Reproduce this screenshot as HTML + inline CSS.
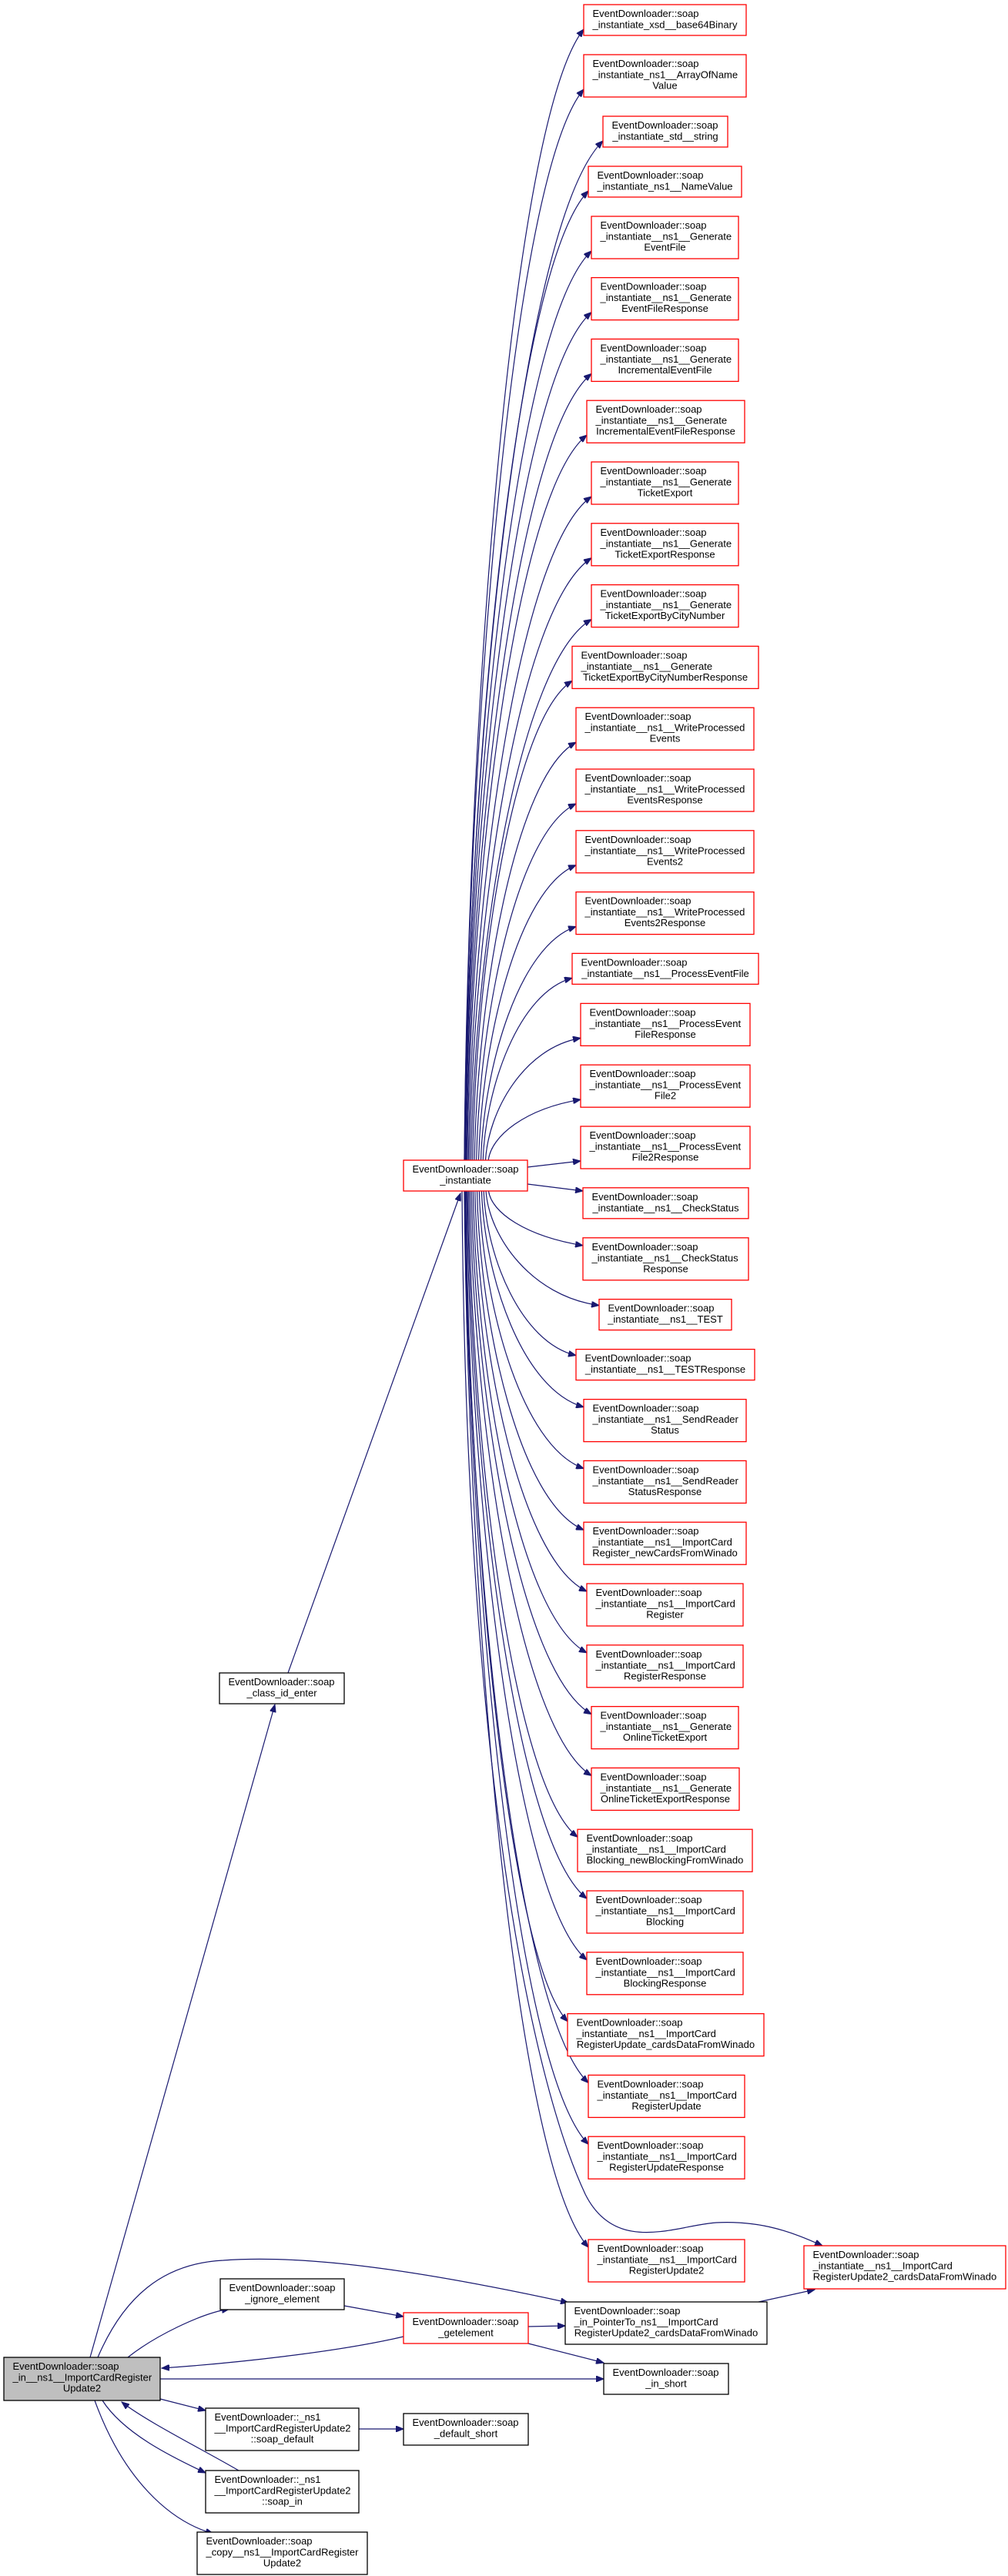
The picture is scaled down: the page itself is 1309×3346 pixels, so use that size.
<!DOCTYPE html>
<html><head><meta charset="utf-8"><style>
html,body{margin:0;padding:0;background:#fff;}
svg{display:block;}
text{font-family:"Liberation Sans",Arial,sans-serif;font-size:13px;fill:#000;}
.r rect{fill:#fff;stroke:#ff0000;stroke-width:1.3;}
.b rect{fill:#fff;stroke:#000;stroke-width:1.3;}
.g rect{fill:#bfbfbf;stroke:#000;stroke-width:1.3;}
.e{fill:none;stroke:#191970;stroke-width:1.2;}
.c{text-anchor:middle;}
</style></head><body>
<svg id="s" width="1309" height="3346" viewBox="0 0 1309 3346" xmlns="http://www.w3.org/2000/svg">
<defs><marker id="a" markerWidth="11" markerHeight="8" refX="10" refY="4" orient="auto" markerUnits="userSpaceOnUse"><path d="M0,0 L10,4 L0,8 z" fill="#191970" stroke="#191970"/></marker></defs>
<g id="edges"></g>
<g id="edges2">
<path class="e" marker-end="url(#a)" d="M117,3062 L357,2214"/>
<path class="e" marker-end="url(#a)" d="M374,2173 L598,1550"/>
<path class="e" marker-end="url(#a)" d="M127,3062 C160,2985 210,2940 290,2936 C400,2928 550,2950 738,2991"/>
<path class="e" marker-end="url(#a)" d="M166,3062 C200,3035 260,3005 298,2999"/>
<path class="e" marker-end="url(#a)" d="M447,2995 L524,3009"/>
<path class="e" marker-end="url(#a)" d="M524,3035 C440,3055 300,3070 210,3076"/>
<path class="e" marker-end="url(#a)" d="M686,3022 L734,3021"/>
<path class="e" marker-end="url(#a)" d="M686,3044 L784,3069"/>
<path class="e" marker-end="url(#a)" d="M208,3090 L784,3090"/>
<path class="e" marker-end="url(#a)" d="M985,2990 L1058,2974"/>
<path class="e" marker-end="url(#a)" d="M208,3116 L267,3131"/>
<path class="e" marker-end="url(#a)" d="M466,3155 L524,3155"/>
<path class="e" marker-end="url(#a)" d="M133,3118 C160,3160 220,3190 267,3212"/>
<path class="e" marker-end="url(#a)" d="M310,3209 C260,3180 190,3145 158,3120"/>
<path class="e" marker-end="url(#a)" d="M123,3118 C160,3220 220,3275 277,3291"/>
<path class="e" marker-end="url(#a)" d="M600,1547 C605,2300 690,2700 760,2850 C800,2930 880,2890 930,2887 C990,2884 1030,2900 1068,2917"/>
<path class="e" marker-end="url(#a)" d="M685,1516 L754,1508"/>
<path class="e" marker-end="url(#a)" d="M685,1538 L757,1547"/>
</g>

<g class="r"><rect x="758" y="6" width="211" height="40"/><text x="769.5" y="22">EventDownloader::soap</text><text x="863.5" y="36.5" class="c">_instantiate_xsd__base64Binary</text></g>
<g class="r"><rect x="758" y="71" width="211" height="55"/><text x="769.5" y="87">EventDownloader::soap</text><text x="769.5" y="101.5">_instantiate_ns1__ArrayOfName</text><text x="863.5" y="115.5" class="c">Value</text></g>
<g class="r"><rect x="783" y="151" width="162" height="40"/><text x="794.5" y="167">EventDownloader::soap</text><text x="864" y="181.5" class="c">_instantiate_std__string</text></g>
<g class="r"><rect x="764" y="216" width="199" height="40"/><text x="775.5" y="232">EventDownloader::soap</text><text x="863.5" y="246.5" class="c">_instantiate_ns1__NameValue</text></g>
<g class="r"><rect x="768" y="281" width="191" height="55"/><text x="779.5" y="297">EventDownloader::soap</text><text x="779.5" y="311.5">_instantiate__ns1__Generate</text><text x="863.5" y="325.5" class="c">EventFile</text></g>
<g class="r"><rect x="768" y="360.6" width="191" height="55"/><text x="779.5" y="376.6">EventDownloader::soap</text><text x="779.5" y="391.1">_instantiate__ns1__Generate</text><text x="863.5" y="405.1" class="c">EventFileResponse</text></g>
<g class="r"><rect x="768" y="440.4" width="191" height="55"/><text x="779.5" y="456.4">EventDownloader::soap</text><text x="779.5" y="470.9">_instantiate__ns1__Generate</text><text x="863.5" y="484.9" class="c">IncrementalEventFile</text></g>
<g class="r"><rect x="762" y="520.2" width="205" height="55"/><text x="773.5" y="536.2">EventDownloader::soap</text><text x="773.5" y="550.7">_instantiate__ns1__Generate</text><text x="864.5" y="564.7" class="c">IncrementalEventFileResponse</text></g>
<g class="r"><rect x="768" y="600" width="191" height="55"/><text x="779.5" y="616">EventDownloader::soap</text><text x="779.5" y="630.5">_instantiate__ns1__Generate</text><text x="863.5" y="644.5" class="c">TicketExport</text></g>
<g class="r"><rect x="768" y="679.8" width="191" height="55"/><text x="779.5" y="695.8">EventDownloader::soap</text><text x="779.5" y="710.3">_instantiate__ns1__Generate</text><text x="863.5" y="724.3" class="c">TicketExportResponse</text></g>
<g class="r"><rect x="768" y="759.6" width="191" height="55"/><text x="779.5" y="775.6">EventDownloader::soap</text><text x="779.5" y="790.1">_instantiate__ns1__Generate</text><text x="863.5" y="804.1" class="c">TicketExportByCityNumber</text></g>
<g class="r"><rect x="743" y="839.4" width="242" height="55"/><text x="754.5" y="855.4">EventDownloader::soap</text><text x="754.5" y="869.9">_instantiate__ns1__Generate</text><text x="864" y="883.9" class="c">TicketExportByCityNumberResponse</text></g>
<g class="r"><rect x="748" y="919.2" width="231" height="55"/><text x="759.5" y="935.2">EventDownloader::soap</text><text x="759.5" y="949.7">_instantiate__ns1__WriteProcessed</text><text x="863.5" y="963.7" class="c">Events</text></g>
<g class="r"><rect x="748" y="999" width="231" height="55"/><text x="759.5" y="1015">EventDownloader::soap</text><text x="759.5" y="1029.5">_instantiate__ns1__WriteProcessed</text><text x="863.5" y="1043.5" class="c">EventsResponse</text></g>
<g class="r"><rect x="748" y="1078.8" width="231" height="55"/><text x="759.5" y="1094.8">EventDownloader::soap</text><text x="759.5" y="1109.3">_instantiate__ns1__WriteProcessed</text><text x="863.5" y="1123.3" class="c">Events2</text></g>
<g class="r"><rect x="748" y="1158.6" width="231" height="55"/><text x="759.5" y="1174.6">EventDownloader::soap</text><text x="759.5" y="1189.1">_instantiate__ns1__WriteProcessed</text><text x="863.5" y="1203.1" class="c">Events2Response</text></g>
<g class="r"><rect x="743" y="1238.4" width="242" height="40"/><text x="754.5" y="1254.4">EventDownloader::soap</text><text x="864" y="1268.9" class="c">_instantiate__ns1__ProcessEventFile</text></g>
<g class="r"><rect x="754" y="1303.4" width="220" height="55"/><text x="765.5" y="1319.4">EventDownloader::soap</text><text x="765.5" y="1333.9">_instantiate__ns1__ProcessEvent</text><text x="864" y="1347.9" class="c">FileResponse</text></g>
<g class="r"><rect x="754" y="1383.2" width="220" height="55"/><text x="765.5" y="1399.2">EventDownloader::soap</text><text x="765.5" y="1413.7">_instantiate__ns1__ProcessEvent</text><text x="864" y="1427.7" class="c">File2</text></g>
<g class="r"><rect x="754" y="1463" width="220" height="55"/><text x="765.5" y="1479">EventDownloader::soap</text><text x="765.5" y="1493.5">_instantiate__ns1__ProcessEvent</text><text x="864" y="1507.5" class="c">File2Response</text></g>
<g class="r"><rect x="757" y="1542.8" width="215" height="40"/><text x="768.5" y="1558.8">EventDownloader::soap</text><text x="864.5" y="1573.3" class="c">_instantiate__ns1__CheckStatus</text></g>
<g class="r"><rect x="757" y="1607.8" width="215" height="55"/><text x="768.5" y="1623.8">EventDownloader::soap</text><text x="768.5" y="1638.3">_instantiate__ns1__CheckStatus</text><text x="864.5" y="1652.3" class="c">Response</text></g>
<g class="r"><rect x="778" y="1687.6" width="172" height="40"/><text x="789.5" y="1703.6">EventDownloader::soap</text><text x="864" y="1718.1" class="c">_instantiate__ns1__TEST</text></g>
<g class="r"><rect x="748" y="1752.6" width="232" height="40"/><text x="759.5" y="1768.6">EventDownloader::soap</text><text x="864" y="1783.1" class="c">_instantiate__ns1__TESTResponse</text></g>
<g class="r"><rect x="758" y="1817.6" width="211" height="55"/><text x="769.5" y="1833.6">EventDownloader::soap</text><text x="769.5" y="1848.1">_instantiate__ns1__SendReader</text><text x="863.5" y="1862.1" class="c">Status</text></g>
<g class="r"><rect x="758" y="1897.4" width="211" height="55"/><text x="769.5" y="1913.4">EventDownloader::soap</text><text x="769.5" y="1927.9">_instantiate__ns1__SendReader</text><text x="863.5" y="1941.9" class="c">StatusResponse</text></g>
<g class="r"><rect x="758" y="1977.2" width="211" height="55"/><text x="769.5" y="1993.2">EventDownloader::soap</text><text x="769.5" y="2007.7">_instantiate__ns1__ImportCard</text><text x="863.5" y="2021.7" class="c">Register_newCardsFromWinado</text></g>
<g class="r"><rect x="762" y="2057" width="203" height="55"/><text x="773.5" y="2073">EventDownloader::soap</text><text x="773.5" y="2087.5">_instantiate__ns1__ImportCard</text><text x="863.5" y="2101.5" class="c">Register</text></g>
<g class="r"><rect x="762" y="2136.8" width="203" height="55"/><text x="773.5" y="2152.8">EventDownloader::soap</text><text x="773.5" y="2167.3">_instantiate__ns1__ImportCard</text><text x="863.5" y="2181.3" class="c">RegisterResponse</text></g>
<g class="r"><rect x="768" y="2216.6" width="191" height="55"/><text x="779.5" y="2232.6">EventDownloader::soap</text><text x="779.5" y="2247.1">_instantiate__ns1__Generate</text><text x="863.5" y="2261.1" class="c">OnlineTicketExport</text></g>
<g class="r"><rect x="768" y="2296.4" width="192" height="55"/><text x="779.5" y="2312.4">EventDownloader::soap</text><text x="779.5" y="2326.9">_instantiate__ns1__Generate</text><text x="864" y="2340.9" class="c">OnlineTicketExportResponse</text></g>
<g class="r"><rect x="750" y="2376.2" width="227" height="55"/><text x="761.5" y="2392.2">EventDownloader::soap</text><text x="761.5" y="2406.7">_instantiate__ns1__ImportCard</text><text x="863.5" y="2420.7" class="c">Blocking_newBlockingFromWinado</text></g>
<g class="r"><rect x="762" y="2456" width="203" height="55"/><text x="773.5" y="2472">EventDownloader::soap</text><text x="773.5" y="2486.5">_instantiate__ns1__ImportCard</text><text x="863.5" y="2500.5" class="c">Blocking</text></g>
<g class="r"><rect x="762" y="2535.8" width="203" height="55"/><text x="773.5" y="2551.8">EventDownloader::soap</text><text x="773.5" y="2566.3">_instantiate__ns1__ImportCard</text><text x="863.5" y="2580.3" class="c">BlockingResponse</text></g>
<g class="r"><rect x="737" y="2615.6" width="255" height="55"/><text x="748.5" y="2631.6">EventDownloader::soap</text><text x="748.5" y="2646.1">_instantiate__ns1__ImportCard</text><text x="864.5" y="2660.1" class="c">RegisterUpdate_cardsDataFromWinado</text></g>
<g class="r"><rect x="764" y="2695.4" width="203" height="55"/><text x="775.5" y="2711.4">EventDownloader::soap</text><text x="775.5" y="2725.9">_instantiate__ns1__ImportCard</text><text x="865.5" y="2739.9" class="c">RegisterUpdate</text></g>
<g class="r"><rect x="764" y="2775.2" width="203" height="55"/><text x="775.5" y="2791.2">EventDownloader::soap</text><text x="775.5" y="2805.7">_instantiate__ns1__ImportCard</text><text x="865.5" y="2819.7" class="c">RegisterUpdateResponse</text></g>
<g class="r"><rect x="764" y="2909" width="203" height="55"/><text x="775.5" y="2925">EventDownloader::soap</text><text x="775.5" y="2939.5">_instantiate__ns1__ImportCard</text><text x="865.5" y="2953.5" class="c">RegisterUpdate2</text></g>

<g class="r"><rect x="524" y="1507" width="161" height="40"/><text x="535.5" y="1523">EventDownloader::soap</text><text x="604.5" y="1537.5" class="c">_instantiate</text></g>
<g class="b"><rect x="285" y="2173" width="162" height="40"/><text x="296.5" y="2189">EventDownloader::soap</text><text x="366" y="2203.5" class="c">_class_id_enter</text></g>
<g class="r"><rect x="1044" y="2917" width="262" height="56"/><text x="1055.5" y="2933">EventDownloader::soap</text><text x="1055.5" y="2947.5">_instantiate__ns1__ImportCard</text><text x="1175" y="2961.5" class="c">RegisterUpdate2_cardsDataFromWinado</text></g>
<g class="b"><rect x="734" y="2990" width="262" height="55"/><text x="745.5" y="3006">EventDownloader::soap</text><text x="745.5" y="3020.5">_in_PointerTo_ns1__ImportCard</text><text x="865" y="3034.5" class="c">RegisterUpdate2_cardsDataFromWinado</text></g>
<g class="r"><rect x="524" y="3004" width="162" height="40"/><text x="535.5" y="3020">EventDownloader::soap</text><text x="605" y="3034.5" class="c">_getelement</text></g>
<g class="b"><rect x="286" y="2960" width="161" height="40"/><text x="297.5" y="2976">EventDownloader::soap</text><text x="366.5" y="2990.5" class="c">_ignore_element</text></g>
<g class="g"><rect x="5" y="3062" width="203" height="56"/><text x="16.5" y="3078">EventDownloader::soap</text><text x="16.5" y="3092.5">_in__ns1__ImportCardRegister</text><text x="106.5" y="3106.5" class="c">Update2</text></g>
<g class="b"><rect x="784" y="3070" width="162" height="40"/><text x="795.5" y="3086">EventDownloader::soap</text><text x="865" y="3100.5" class="c">_in_short</text></g>
<g class="b"><rect x="267" y="3128" width="199" height="55"/><text x="278.5" y="3144">EventDownloader::_ns1</text><text x="278.5" y="3158.5">__ImportCardRegisterUpdate2</text><text x="366.5" y="3172.5" class="c">::soap_default</text></g>
<g class="b"><rect x="524" y="3135" width="162" height="41"/><text x="535.5" y="3151">EventDownloader::soap</text><text x="605" y="3165.5" class="c">_default_short</text></g>
<g class="b"><rect x="267" y="3209" width="199" height="55"/><text x="278.5" y="3225">EventDownloader::_ns1</text><text x="278.5" y="3239.5">__ImportCardRegisterUpdate2</text><text x="366.5" y="3253.5" class="c">::soap_in</text></g>
<g class="b"><rect x="256" y="3289" width="221" height="55"/><text x="267.5" y="3305">EventDownloader::soap</text><text x="267.5" y="3319.5">_copy__ns1__ImportCardRegister</text><text x="366.5" y="3333.5" class="c">Update2</text></g>
</svg>
<script>
(function(){
var B=[[758,6,40],[758,71,55],[783,151,40],[764,216,40],[768,281,55],[768,360.6,55],[768,440.4,55],[762,520.2,55],[768,600,55],[768,679.8,55],[768,759.6,55],[743,839.4,55],[748,919.2,55],[748,999,55],[748,1078.8,55],[748,1158.6,55],[743,1238.4,40],[754,1303.4,55],[754,1383.2,55],
[757,1607.8,55],[778,1687.6,40],[748,1752.6,40],[758,1817.6,55],[758,1897.4,55],[758,1977.2,55],[762,2057,55],[762,2136.8,55],[768,2216.6,55],[768,2296.4,55],[750,2376.2,55],[762,2456,55],[762,2535.8,55],[737,2615.6,55],[764,2695.4,55],[764,2775.2,55],[764,2909,55]];
var g=document.getElementById('edges'),ns='http://www.w3.org/2000/svg',out='';
B.forEach(function(b){
 var up=b[1]<1500, sy=up?1507:1547;
 var tx=b[0], ty=up?b[1]+b[2]-(b[2]>45?10:8):b[1]+(b[2]>45?10:8);
 var dy=Math.abs(ty-sy), k=1-Math.min(dy,1400)/1400;
 var sx=603+35*k*k;
 var dx=tx-sx, s=up?-1:1;
 var p1x=sx+0.03*dx, p1y=sy+s*0.4*dy;
 var off=Math.max(0.08*dy,12);
 var p2x=sx+0.4*dx, p2y=ty-s*off;
 out+='<path class="e" marker-end="url(#a)" d="M'+sx.toFixed(1)+','+sy+' C'+p1x.toFixed(1)+','+p1y.toFixed(1)+' '+p2x.toFixed(1)+','+p2y.toFixed(1)+' '+tx+','+ty+'"/>';
});
g.innerHTML=out;
})();
</script>
</body></html>
